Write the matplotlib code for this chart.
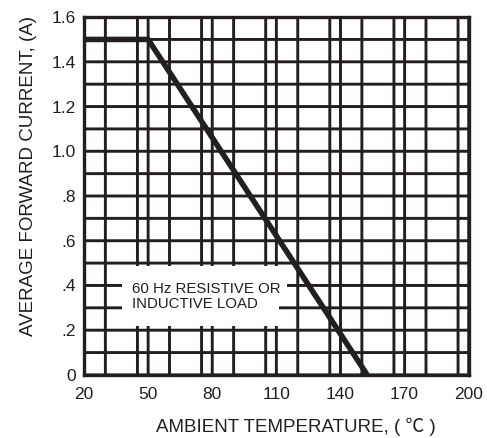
import matplotlib

matplotlib.use("Agg")
import matplotlib.pyplot as plt
from matplotlib.patches import Rectangle
from matplotlib.ticker import MultipleLocator

plt.rcParams["font.family"] = ["Liberation Sans", "Noto Sans CJK JP", "DejaVu Sans"]

# derating curve: ambient temperature (C) vs average forward current (A)
temp_c = [20, 50, 152.5]
current_a = [1.5, 1.5, 0.0]

x_ticks = [20, 50, 80, 110, 140, 170, 200]
y_ticks = [0, 0.2, 0.4, 0.6, 0.8, 1.0, 1.2, 1.4, 1.6]
y_tick_labels = ["0", ".2", ".4", ".6", ".8", "1.0", "1.2", "1.4", "1.6"]

note = "60 Hz RESISTIVE OR\nINDUCTIVE LOAD"

INK = "#231f20"

fig = plt.figure(figsize=(4.87, 4.38), dpi=100)
ax = fig.add_axes([0.1725, 0.144, 0.79, 0.817])

ax.set_xlim(20, 200)
ax.set_ylim(0, 1.6)
ax.set_xticks(x_ticks)
ax.set_yticks(y_ticks)
ax.set_yticklabels(y_tick_labels)
ax.xaxis.set_minor_locator(MultipleLocator(15))
ax.yaxis.set_minor_locator(MultipleLocator(0.1))
# no pixel snapping, so every grid line comes out the same weight
ax.grid(which="both", color=INK, linewidth=2.1, zorder=1, snap=False)
ax.set_axisbelow(True)
ax.tick_params(which="both", length=0)
ax.tick_params(axis="y", labelsize=12.5, pad=6, colors=INK)
ax.tick_params(axis="x", labelsize=12.5, pad=9, colors=INK)
for spine in ax.spines.values():
    spine.set_linewidth(2.4)
    spine.set_color(INK)
    spine.set_zorder(4)

# white knock-out behind the note (upper line runs a bit wider)
ax.add_patch(Rectangle((37.6, 0.218), 73.8, 0.268, facecolor="white",
                       edgecolor="none", zorder=2))
ax.add_patch(Rectangle((37.6, 0.36), 77.4, 0.126, facecolor="white",
                       edgecolor="none", zorder=2))
ax.text(42.5, 0.351, note, fontsize=10.8, color=INK, va="center",
        ha="left", linespacing=1.1, zorder=3)

ax.plot(temp_c, current_a, color=INK, linewidth=4.0,
        solid_capstyle="butt", zorder=3, clip_on=True)

ax.set_xlabel("AMBIENT TEMPERATURE, ( ℃ )", fontsize=13.5, color=INK)
ax.xaxis.set_label_coords(0.55, -0.12)
ax.set_ylabel("AVERAGE FORWARD CURRENT, (A)", fontsize=13.5, color=INK)
ax.yaxis.set_label_coords(-0.122, 0.556)

fig.savefig("out.png", dpi=100, facecolor="white")
